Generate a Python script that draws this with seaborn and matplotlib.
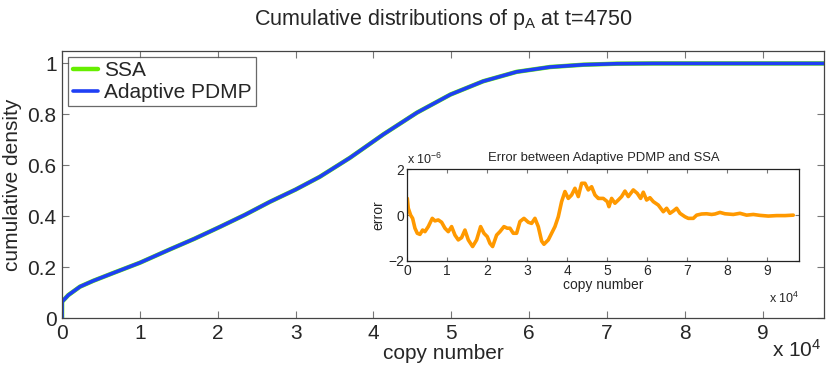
import matplotlib
matplotlib.use('Agg')
import matplotlib.pyplot as plt
from matplotlib.ticker import FuncFormatter
import pandas as pd
import seaborn as sns

# cumulative distribution of p_A (SSA and adaptive PDMP coincide)
copy_number = [0, 0, 800, 2300, 4000, 6600, 10000, 13900, 17000, 20300, 23500,
               26700, 30000, 33100, 37000, 41300, 45600, 49900, 54100, 58400,
               62700, 67000, 71300, 76000, 82000, 90000, 97900]
cum_density = [0.0, 0.065, 0.091, 0.124, 0.147, 0.178, 0.218, 0.271, 0.312,
               0.359, 0.406, 0.457, 0.505, 0.555, 0.630, 0.722, 0.807, 0.878,
               0.930, 0.967, 0.986, 0.995, 0.999, 1.0, 1.0, 1.0, 1.0]

# error between adaptive PDMP and SSA (units of 1e-6)
err_copy = [0, 250, 833, 1333, 1917, 2500, 3167, 3833, 4417, 5250, 6250, 6917,
            7750, 8583, 9417, 10250, 11083, 11917, 12750, 13583, 14417, 15250,
            16333, 17333, 18333, 19167, 20000, 20667, 21333, 22333, 23167,
            24167, 25000, 25667, 26500, 27333, 28167, 29167, 30250, 31083,
            31917, 32750, 33583, 34167, 35250, 36083, 36917, 37750, 38583,
            39417, 40250, 41083, 41917, 42750, 43583, 44417, 45250, 46083,
            46917, 47750, 48167, 49000, 50000, 50417, 51083, 51917, 52750,
            53583, 54417, 55250, 56500, 57500, 58333, 59000, 59833, 60667,
            61500, 62750, 64000, 64833, 65667, 66500, 67333, 68167, 69417,
            70250, 71500, 72333, 73583, 74833, 76083, 76917, 78167, 79417,
            81500, 83167, 84833, 86500, 88167, 90250, 92333, 94417, 96500]
err_e6 = [0.73, 0.30, 0.0, -0.14, -0.57, -0.79, -0.84, -0.65, -0.72, -0.50,
          -0.14, -0.25, -0.21, -0.31, -0.57, -0.72, -0.50, -0.87, -1.08, -0.98,
          -0.65, -1.08, -1.37, -1.08, -0.50, -0.79, -0.94, -1.23, -1.37, -0.87,
          -0.72, -0.50, -0.57, -0.57, -0.79, -0.79, -0.28, -0.14, -0.31, -0.36,
          -0.14, -0.50, -1.13, -1.27, -1.08, -0.79, -0.50, -0.07, 0.59, 1.03,
          0.73, 0.88, 1.17, 0.81, 1.39, 1.39, 1.10, 1.24, 0.88, 0.73, 0.73,
          0.73, 0.59, 0.37, 0.73, 0.52, 0.66, 0.81, 1.05, 0.81, 1.10, 0.95,
          0.73, 1.00, 0.66, 0.76, 0.59, 0.44, 0.15, 0.30, 0.08, 0.18, 0.30,
          0.08, -0.07, -0.14, -0.14, 0.0, 0.05, 0.06, 0.03, 0.05, 0.12, 0.06,
          0.03, 0.08, 0.0, 0.03, -0.01, -0.04, -0.02, -0.02, 0.0]

cdf = pd.DataFrame({'copy': copy_number, 'density': cum_density})
err = pd.DataFrame({'copy': err_copy, 'error': err_e6})

sns.set_theme(style='ticks')
plt.rcParams['font.family'] = ['Liberation Sans', 'DejaVu Sans']
plt.rcParams['mathtext.fontset'] = 'custom'
plt.rcParams['mathtext.rm'] = 'Liberation Sans'
plt.rcParams['mathtext.it'] = 'Liberation Sans:italic'

edge = '#444444'
fig = plt.figure(figsize=(8.3, 3.72), dpi=100)
ax = fig.add_axes([0.0748, 0.1444, 0.918, 0.7193])

sns.lineplot(data=cdf, x='copy', y='density', ax=ax, color='#66ee00', lw=3.2,
             estimator=None, sort=False, label='SSA')
sns.lineplot(data=cdf, x='copy', y='density', ax=ax, color='#1f3ff5', lw=2.6,
             estimator=None, sort=False, label='Adaptive PDMP')

ax.set_xlim(0, 97900)
ax.set_ylim(0, 1.05)
ax.set_xticks(range(0, 90001, 10000))
ax.set_yticks([0, 0.2, 0.4, 0.6, 0.8, 1])
ax.xaxis.set_major_formatter(FuncFormatter(lambda v, p: f'{v / 1e4:g}'))
ax.yaxis.set_major_formatter(FuncFormatter(lambda v, p: f'{v:g}'))
ax.tick_params(direction='in', top=True, right=True, length=5, width=0.8,
               color='#777777', labelsize=15, pad=4)
for s in ax.spines.values():
    s.set_color(edge)
    s.set_linewidth(0.9)
ax.set_xlabel('copy number', fontsize=15, labelpad=1)
ax.set_ylabel('cumulative density', fontsize=15, labelpad=4)
fig.text(0.99, 0.03, r'x 10$^{4}$', ha='right', va='bottom', fontsize=15)
fig.text(0.0748 + 0.918 / 2, 0.933,
         r'Cumulative distributions of p$_{\mathrm{A}}$ at t=4750',
         ha='center', va='baseline', fontsize=15.5)

leg = ax.legend(loc='upper left', fontsize=15, frameon=True, fancybox=False,
                handlelength=1.2, handletextpad=0.3, borderaxespad=0.3,
                borderpad=0.2, labelspacing=0.15)
leg.get_frame().set_edgecolor(edge)
leg.get_frame().set_linewidth(0.9)

# inset with the error
ins = fig.add_axes([0.4907, 0.2984, 0.4723, 0.2465])
sns.lineplot(data=err, x='copy', y='error', ax=ins, color='#ff9900', lw=2.6,
             estimator=None, sort=False)
ins.set_xlim(0, 98000)
ins.set_ylim(-2, 2)
ins.set_xticks(range(0, 90001, 10000))
ins.set_yticks([-2, 0, 2])
ins.xaxis.set_major_formatter(FuncFormatter(lambda v, p: f'{v / 1e4:g}'))
ins.yaxis.set_major_formatter(FuncFormatter(lambda v, p: f'{v:g}'.replace('-', '\u2212')))
ins.tick_params(direction='in', top=True, right=True, length=3, width=0.8,
                color='#777777', labelsize=10, pad=2)
for s in ins.spines.values():
    s.set_color('#222222')
    s.set_linewidth(0.9)
ins.set_xlabel('copy number', fontsize=10, labelpad=0)
ins.set_ylabel('error', fontsize=10, labelpad=2)
ins.set_title('Error between Adaptive PDMP and SSA', fontsize=9.4, pad=6)
ins.text(0.0, 1.02, r'x 10$^{-6}$', transform=ins.transAxes, fontsize=9,
         ha='left', va='bottom')
ins.text(1.0, -0.32, r'x 10$^{4}$', transform=ins.transAxes, fontsize=9,
         ha='right', va='top')

fig.savefig('out.png', dpi=100)
